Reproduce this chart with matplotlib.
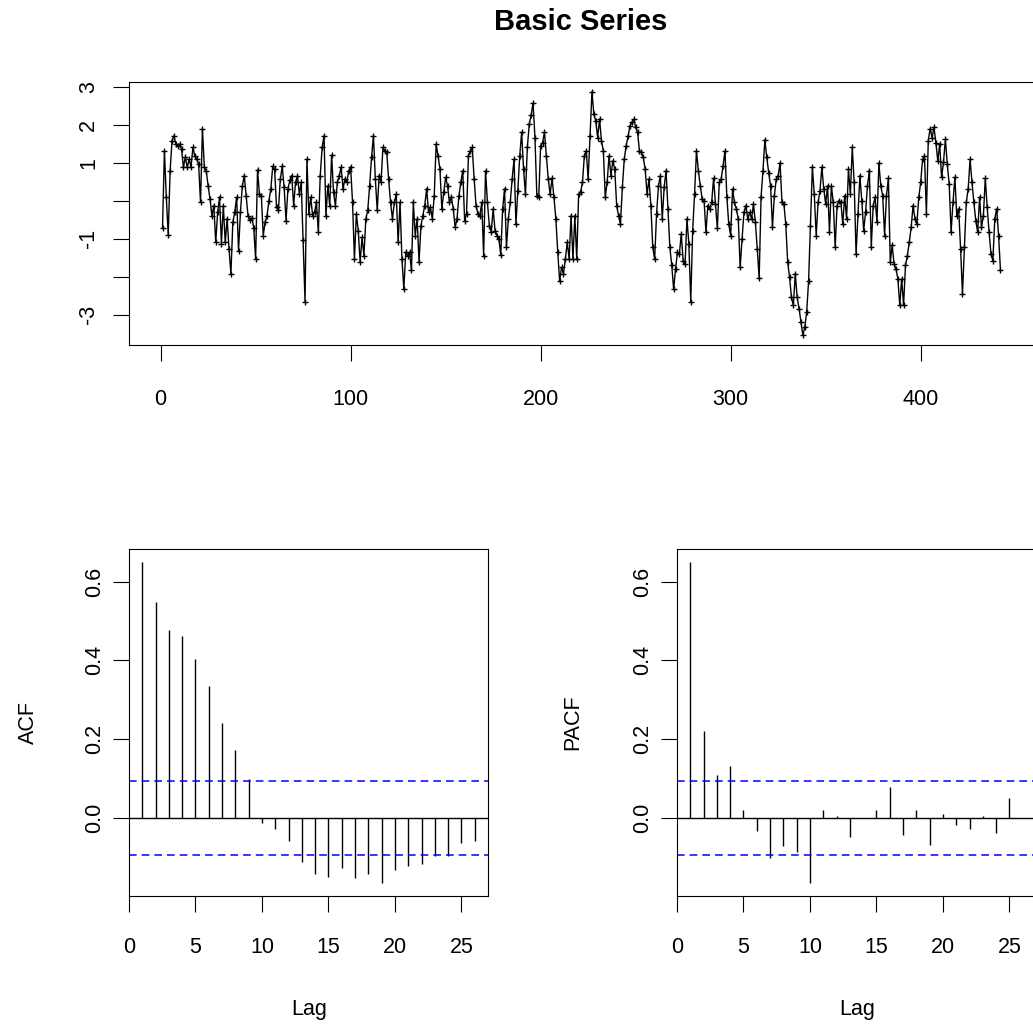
import numpy as np
import matplotlib.pyplot as plt

plt.rcParams['font.family'] = ['Liberation Sans', 'DejaVu Sans']
plt.rcParams['axes.unicode_minus'] = False

# series values (t = 1 .. 442)
series = [
    -0.7, 1.32, 0.1, -0.9, 0.8, 1.59, 1.72, 1.5, 1.46, 1.5, 1.37, 0.89, 1.15, 0.89, 1.1, 0.89,
    1.41, 1.19, 1.1, 0.97, -0.04, 1.91, 0.89, 0.8, 0.4, 0.05, -0.39, -0.12, -1.09, -0.3, 0.1,
    -1.13, -0.12, -1.09, -0.47, -1.26, -1.92, -0.56, -0.3, 0.1, -1.31, -0.3, 0.4, 0.67, 0.14, -0.39,
    # 47 - 99
    -0.5, -0.45, -0.7, -1.53, 0.82, 0.18, 0.14, -0.91, -0.56, -0.39, 0.01, 0.32, 0.91, 0.84, -0.17,
    -0.25, 0.58, 0.91, 0.36, -0.52, 0.32, 0.54, 0.67, -0.12, 0.49, 0.67, 0.18, 0.49, -1.04, -2.65,
    1.1, -0.34, 0.1, -0.39, -0.3, -0.04, -0.82, 0.67, 1.41, 1.72, -0.39, 0.4, -0.12, 1.21, 0.23,
    -0.12, 0.49, 0.67, 0.89, 0.32, 0.58, 0.49, 0.8,
    # 100 - 152
    0.9, -0.04, -1.53, -0.34, -0.78, -1.61, -0.96, -1.44, -0.47, -0.25, 0.4, 1.15, 1.72, 0.58,
    -0.25, 0.67, 0.49, 1.41, 1.32, 1.28, 0.58, -0.04, -0.47, -0.04, 0.18, -1.09, -0.04, -1.53,
    -2.32, -1.35, -1.44, -1.35, -1.83, -0.04, -0.91, -0.47, -1.6, -0.65, -0.39, -0.12, 0.32,
    -0.3, -0.17, -0.47, 0.14, 1.5, 1.19, 0.84, -0.21, 0.23, 0.62, 0.4, -0.04,
    # 153 - 205
    0.1, -0.21, -0.69, -0.47, 0.14, 0.49, 0.8, -0.52, -0.34, 1.19, 1.32, 1.41, 0.58, -0.12, -0.34,
    -0.39, -0.04, -1.44, 0.8, -0.04, -0.65, -0.82, -0.21, -0.78, -0.91, -1.0, -1.42, -0.21, 0.32,
    -1.22, -0.47, -0.04, 0.58, 1.1, -0.61, 0.27, 1.19, 1.81, 0.84, 0.18, 1.41, 2.03, 2.26, 2.58,
    1.67, 0.14, 0.1, 1.46, 1.54, 1.81, 1.19, 0.58, 0.18,
    # 206 - 257
    0.6, 0.1, -0.47, -1.35, -2.12, -1.75, -1.92, -1.53, -1.09, -1.53, -0.39, -1.53, -0.39, -1.53,
    0.18, 0.23, 0.49, 1.19, 1.32, 0.58, 1.72, 2.88, 2.29, 2.11, 1.67, 2.16, 1.59, 1.32, 0.1, 0.49,
    1.19, 0.67, 1.06, 0.84, -0.12, -0.39, -0.61, 0.36, 1.1, 1.46, 1.7, 1.98, 2.07, 2.16, 1.94,
    1.81, 1.32, 1.28, 1.15, 0.84, 0.18, 0.58,
    # 258 - 309
    -0.12, -1.22, -1.53, -0.34, 0.4, 0.67, -0.47, 0.36, 0.8, -0.21, -1.22, -1.7, -2.33, -1.79,
    -1.35, -1.4, -0.87, -1.57, -1.66, -0.47, -1.13, -2.65, -0.78, 0.18, 1.32, 0.8, 0.4, 0.05, 0.01,
    -0.82, -0.12, -0.21, -0.04, 0.6, -0.08, -0.72, 0.49, 0.58, 0.93, 1.32, 0.1, -0.61, -0.91, 0.32,
    -0.04, -0.21, -0.47, -1.75, -1.0, -0.3, -0.12, -0.47,
    # 310 - 362
    -0.3, -0.47, -0.08, -0.56, -1.26, -2.04, 0.1, 0.8, 1.61, 1.15, 0.75, 0.4, -0.69, 0.14, 0.58,
    0.67, 1.0, -0.04, -0.08, -0.61, -1.61, -2.01, -2.54, -2.75, -1.92, -2.54, -2.84, -3.19, -3.54,
    -3.32, -2.93, -2.12, -0.65, 0.89, 0.18, -0.91, -0.04, 0.27, 0.89, 0.32, -0.08, 0.4, -0.81, 0.4,
    -0.04, -1.22, -0.12, 0.01, -0.04, -0.61, 0.14, -0.47, 0.84,
    # 363 - 415
    0.18, 1.41, 0.49, -1.4, -0.34, 0.67, 0.01, -0.78, -0.3, 0.4, 0.8, -1.22, -0.12, 0.1, -0.56,
    1.0, 0.4, 0.14, -0.91, 0.14, 0.6, -1.61, -1.17, -1.66, -1.79, -2.05, -2.75, -2.05, -2.75, -1.7,
    -1.44, -1.09, -0.69, -0.12, -0.47, -0.61, 0.1, 0.49, 1.1, 1.19, -0.34, 1.59, 1.91, 1.67, 1.94,
    1.54, 1.06, 1.5, 0.62, 1.02, 1.63, 0.97, 0.45,
    # 416 - 442
    -0.82, -0.04, 0.62, -0.39, -0.21, -1.26, -2.45, -1.22, -0.04, 0.32, 1.1, 0.49, -0.04, -0.52,
    -0.82, 0.1, -0.69, -0.39, 0.6, -0.17, -0.82, -1.4, -1.57, -0.47, -0.21, -0.91, -1.83,
]

lags = list(range(1, 27))
acf_vals = [0.650, 0.547, 0.478, 0.462, 0.404, 0.335, 0.241, 0.173, 0.100, -0.013,
            -0.028, -0.057, -0.111, -0.141, -0.150, -0.127, -0.151, -0.141, -0.165, -0.132,
            -0.122, -0.116, -0.095, -0.095, -0.062, -0.057]
pacf_vals = [0.650, 0.222, 0.109, 0.133, 0.020, -0.032, -0.101, -0.072, -0.087, -0.165,
             0.020, 0.006, -0.047, 0.001, 0.020, 0.079, -0.042, 0.020, -0.067, 0.011,
             -0.018, -0.028, 0.006, -0.037, 0.051, 0.0]

y_ticks = [3, 2, 1, 0, -1, -2, -3]
y_tick_labels = ['3', '2', '1', '', '-1', '', '-3']

W, H = 1033, 1025
FS = 15.5
fig = plt.figure(figsize=(W / 100, H / 100), dpi=100)


def px_axes(l, t, r, b):
    return fig.add_axes([l / W, 1 - b / H, (r - l) / W, (b - t) / H])


def r_lim(lo, hi):
    d = (hi - lo) * 0.04
    return lo - d, hi + d


def style(ax, xpad, ypad):
    for s in ax.spines.values():
        s.set_linewidth(0.8)
    ax.tick_params(direction='out', length=11.5, width=0.8, labelsize=FS, colors='black')
    ax.tick_params(axis='x', pad=xpad)
    ax.tick_params(axis='y', pad=ypad)
    for lab in ax.get_yticklabels():
        lab.set_rotation(90)
        lab.set_va('center')


n = len(series)
t = np.arange(1, n + 1)

# top: the series
ax = px_axes(129, 82, 1034, 345)
ax.plot(t, series, color='black', lw=1.0, marker='+', ms=5, mew=1.0)
ax.set_xlim(*r_lim(1, n))
ax.set_ylim(*r_lim(min(series), max(series)))
ax.set_xticks([0, 100, 200, 300, 400])
ax.set_yticks(y_ticks)
ax.set_yticklabels(y_tick_labels)
style(ax, 20, 10)
fig.text(581 / W, 1 - 22 / H, 'Basic Series', ha='center', va='center',
         fontsize=21, fontweight='bold')

ci = 1.96 / np.sqrt(n)


def corr_panel(left, vals, name, label_x):
    a = px_axes(left, 549, left + 359, 896)
    a.vlines(lags, 0, vals, color='black', lw=1.0)
    a.axhline(0, color='black', lw=1.0)
    for c in (ci, -ci):
        a.axhline(c, color='blue', lw=1.1, linestyle=(0, (5, 3.3)))
    a.set_xlim(*r_lim(lags[0], lags[-1]))
    a.set_ylim(*r_lim(min(min(vals), -ci), max(max(vals), ci)))
    a.set_xticks([0, 5, 10, 15, 20, 25])
    a.set_yticks([0.0, 0.2, 0.4, 0.6])
    a.set_yticklabels(['0.0', '0.2', '0.4', '0.6'])
    style(a, 18, 6)
    fig.text((left + 180) / W, 1 - 1010 / H, 'Lag', ha='center', va='center', fontsize=FS)
    fig.text(label_x / W, 1 - 722 / H, name, ha='center', va='center', fontsize=FS,
             rotation=90)
    return a


corr_panel(129, acf_vals, 'ACF', 28)
corr_panel(677, pacf_vals, 'PACF', 573)

fig.savefig('out.png', dpi=100)
